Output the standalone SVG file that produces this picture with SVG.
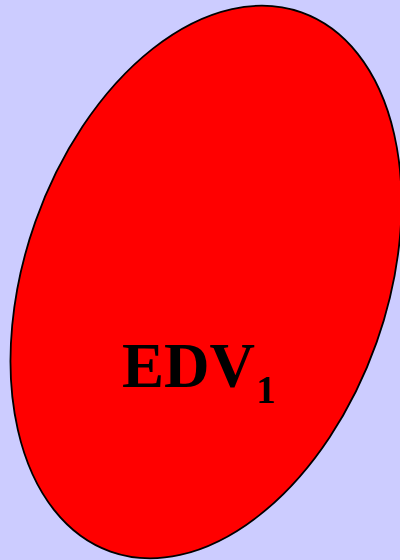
<svg xmlns="http://www.w3.org/2000/svg" width="400" height="560" viewBox="0 0 400 560">
<style>
.bg{fill:#ccccff}
.blob{fill:#ff0000;stroke:#000000;stroke-width:1.8}
.lbl{font-family:"Liberation Serif","Times New Roman",serif;font-weight:bold;fill:#000000}
</style>
<rect class="bg" x="0" y="0" width="400" height="560"/>
<g id="edv1">
<ellipse class="blob" cx="206" cy="282" rx="181" ry="286" transform="rotate(19.5 206 282)"/>
<text class="lbl" x="122" y="387" font-size="63">EDV</text>
<text class="lbl" x="256" y="403" font-size="39">1</text>
</g>
</svg>
